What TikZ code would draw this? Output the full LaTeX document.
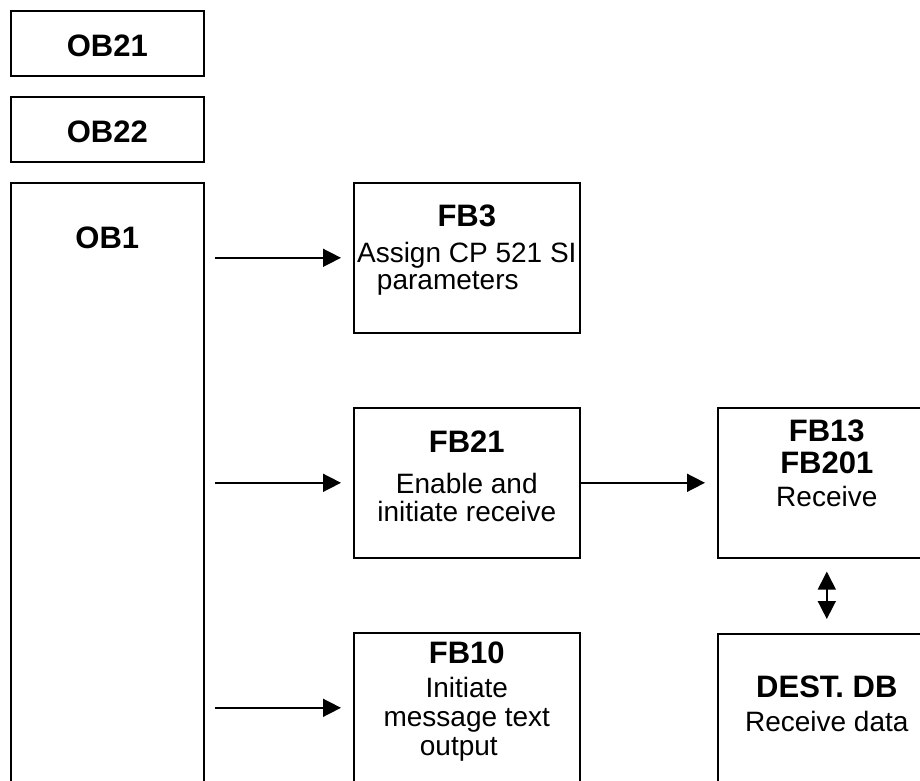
\documentclass[tikz,border=0pt]{standalone}
\usepackage{fontspec}
\setmainfont{Liberation Sans}
\usetikzlibrary{arrows.meta,positioning}

% bold block name inside a box
\newcommand\blkname[1]{{\fontsize{31}{32}\bfseries #1}}

\begin{document}
\begin{tikzpicture}[
        x=1pt, y=-1pt,
        blk/.style  = {draw, line width=1.6pt, anchor=north west, inner sep=0pt,
                       minimum width=226pt, minimum height=150pt},
        obox/.style = {blk, minimum width=193pt, minimum height=65pt,
                       font=\fontsize{31}{32}\bfseries, text height=27.5pt},
        txt/.style  = {inner sep=0pt, align=center, font=\fontsize{28}{28}\selectfont},
        arr/.style  = {line width=1.6pt, -{Triangle[length=18pt,width=18pt]}},
        dbl/.style  = {line width=1.6pt, {Triangle[length=18pt,width=18pt]}-{Triangle[length=18pt,width=18pt]}}
    ]
    \path[use as bounding box, clip] (0,0) rectangle (920,780);

    % organisation blocks
    \node[obox] (ob21) at (10,10) {OB21};
    \node[obox] (ob22) at (10,96) {OB22};
    \node[blk, minimum width=193pt, minimum height=600pt] (ob1) at (10,182) {};
    \node[txt, below=45pt of ob1.north] (ob1txt) {\blkname{OB1}};

    % function blocks called from OB1
    \node[blk] (fb3)  at (353,182) {};
    \node[blk] (fb21) at (353,407) {};
    \node[blk] (fb10) at (353,632) {};
    \node[blk, minimum width=218pt] (fb13) at (717,407) {};
    \node[blk, minimum width=218pt] (dest) at (717,633) {};

    \node[txt, below=23pt of fb3.north] (fb3txt)
        {\blkname{FB3}\\[8pt] Assign CP 521 SI\\[-1pt] parameters\hspace*{38pt}};
    \node[txt, below=24pt of fb21.north] (fb21txt)
        {\blkname{FB21}\\[13pt] Enable and\\ initiate receive};
    \node[txt, below=10pt of fb10.north] (fb10txt)
        {\blkname{FB10}\\[6pt] Initiate\hspace*{16pt}\\[1pt] message text\\[1pt] output\hspace*{16pt}};
    \node[txt, below=13pt of fb13.north] (fb13txt)
        {\blkname{FB13}\\[4pt] \blkname{FB201}\\[5pt] Receive};
    \node[txt, below=43pt of dest.north] (desttxt)
        {\blkname{DEST. DB}\\[6pt] Receive data};

    % calls
    \draw[arr, shorten <=10pt, shorten >=12pt] (ob1.east |- fb3.west) -- (fb3.west);
    \draw[arr, shorten <=10pt, shorten >=12pt] (ob1.east |- fb21.west) -- (fb21.west);
    \draw[arr, shorten <=10pt, shorten >=12pt] (ob1.east |- fb10.west) -- (fb10.west);
    \draw[arr, shorten >=12pt] (fb21.east) -- (fb13.west);
    \draw[dbl, shorten <=13pt, shorten >=14pt] (fb13.south) -- (dest.north);
\end{tikzpicture}
\end{document}
